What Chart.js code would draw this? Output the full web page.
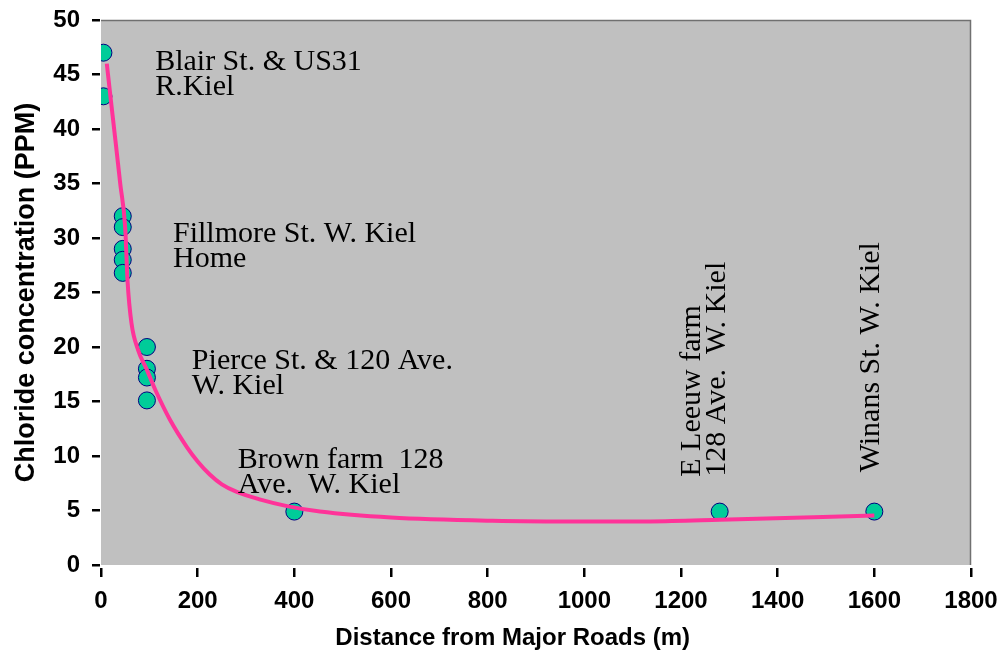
<!DOCTYPE html>
<html>
<head>
<meta charset="utf-8">
<script src="https://cdn.jsdelivr.net/npm/chart.js@4"></script>
<style>
  html, body { margin: 0; padding: 0; background: #fff; }
  #wrap { width: 999px; height: 654px; }
</style>
</head>
<body>
<div id="wrap"><canvas id="chart" width="999" height="654"></canvas></div>
<script>
// sampled points (distance in m, chloride in ppm)
const sampleDist = [5, 5, 45, 45, 45, 45, 45, 95, 95, 95, 95, 400, 1280, 1600];
const sampleCl = [47, 43, 32, 31, 29, 28, 26.8, 20, 18, 17.2, 15.1, 4.9, 4.9, 4.9];

// trend curve
const trendDist = [12, 20, 30, 40, 50, 55, 63, 77, 95, 112, 143, 178, 200, 225, 250, 281, 330, 385, 453, 600, 810, 1000, 1137, 1280, 1600];
const trendCl = [46, 42.8, 38.9, 34.9, 31, 26, 22.2, 19.7, 17.9, 16.1, 13.3, 10.8, 9.5, 8.3, 7.4, 6.7, 6.0, 5.4, 4.9, 4.35, 4.05, 3.98, 4.0, 4.15, 4.55];

// site labels
const siteNotes = [
  ["Blair St. & US31", "R.Kiel"],
  ["Fillmore St. W. Kiel", "Home"],
  ["Pierce St. & 120 Ave.", "W. Kiel"],
  ["Brown farm  128", "Ave.  W. Kiel"],
  ["E Leeuw farm", "128 Ave.  W. Kiel"],
  ["Winans St. W. Kiel"]
];
const noteAtX = [112, 149, 188, 283, 1239, 1610];
const noteAtY = [45.4, 29.6, 18.0, 8.9, 8.1, 8.5];
const noteUpright = [false, false, false, false, true, true];

const xTicks = [0, 200, 400, 600, 800, 1000, 1200, 1400, 1600, 1800];

const toXY = (xs, ys) => xs.map((x, i) => ({x: x, y: ys[i]}));

// gray plot background
const plotBg = {
  id: 'plotBg',
  beforeDraw(chart) {
    const a = chart.chartArea, ctx = chart.ctx;
    ctx.save();
    ctx.fillStyle = '#c0c0c0';
    ctx.fillRect(a.left, a.top, a.right - a.left, a.bottom - a.top);
    ctx.strokeStyle = '#707070';
    ctx.lineWidth = 1.5;
    ctx.beginPath();
    ctx.moveTo(a.left, a.top + 0.5);
    ctx.lineTo(a.right - 0.5, a.top + 0.5);
    ctx.lineTo(a.right - 0.5, a.bottom);
    ctx.stroke();
    ctx.restore();
  }
};

// text notes next to the sites
const siteLabels = {
  id: 'siteLabels',
  afterDatasetsDraw(chart) {
    const ctx = chart.ctx, xs = chart.scales.x, ys = chart.scales.y;
    ctx.save();
    ctx.fillStyle = '#000';
    ctx.font = '30px "Liberation Serif", "Times New Roman", serif';
    ctx.textBaseline = 'alphabetic';
    ctx.textAlign = 'left';
    siteNotes.forEach((lines, i) => {
      const px = xs.getPixelForValue(noteAtX[i]);
      const py = ys.getPixelForValue(noteAtY[i]);
      ctx.save();
      ctx.translate(px, py);
      if (noteUpright[i]) ctx.rotate(-Math.PI / 2);
      lines.forEach((t, j) => ctx.fillText(t, 0, j * 25));
      ctx.restore();
    });
    ctx.restore();
  }
};

const tickFont = {family: '"Liberation Sans", Arial, sans-serif', size: 24, weight: 'bold'};

const config = {
  type: 'scatter',
  data: {
    datasets: [
      {
        label: 'trend',
        type: 'line',
        data: toXY(trendDist, trendCl),
        borderColor: '#ff3399',
        borderWidth: 4,
        pointRadius: 0,
        fill: false,
        cubicInterpolationMode: 'monotone',
        order: 0
      },
      {
        label: 'samples',
        data: toXY(sampleDist, sampleCl),
        backgroundColor: '#00cc99',
        borderColor: '#000080',
        borderWidth: 1,
        pointRadius: 8.5,
        order: 1
      }
    ]
  },
  options: {
    responsive: false,
    animation: false,
    layout: { padding: {top: 20, right: 28, left: 0, bottom: 0} },
    plugins: {
      legend: { display: false },
      tooltip: { enabled: false }
    },
    scales: {
      x: {
        type: 'linear',
        min: 0,
        max: 1800,
        afterFit: s => { s.height = 89; s.paddingLeft = 0; s.paddingRight = 0; },
        afterBuildTicks: s => { s.ticks = xTicks.map(v => ({value: v})); },
        border: { display: false },
        grid: {
          drawOnChartArea: false,
          color: '#000',
          lineWidth: 2.5,
          tickLength: 12,
          tickBorderDash: [0, 3, 9, 40]
        },
        ticks: {
          color: '#000', font: tickFont, padding: 10, maxRotation: 0,
          callback: v => String(v)
        },
        title: {
          display: true,
          text: 'Distance from Major Roads (m)' + '\u00a0'.repeat(7),
          color: '#000',
          font: {family: '"Liberation Sans", Arial, sans-serif', size: 24, weight: 'bold'},
          padding: {top: 0, bottom: 1}
        }
      },
      y: {
        type: 'linear',
        min: 0,
        max: 50,
        afterFit: s => { s.width = 101; s.paddingTop = 0; s.paddingBottom = 0; },
        border: { display: false },
        grid: {
          drawOnChartArea: false,
          color: '#000',
          lineWidth: 2.5,
          tickLength: 9,
          tickBorderDash: [8, 40]
        },
        ticks: { color: '#000', font: tickFont, padding: 12, stepSize: 5 },
        title: {
          display: true,
          text: 'Chloride concentration (PPM)',
          color: '#000',
          font: {family: '"Liberation Sans", Arial, sans-serif', size: 27, weight: 'bold'},
          padding: {top: 10, bottom: 0}
        }
      }
    }
  },
  plugins: [plotBg, siteLabels]
};

new Chart(document.getElementById('chart'), config);
</script>
</body>
</html>
